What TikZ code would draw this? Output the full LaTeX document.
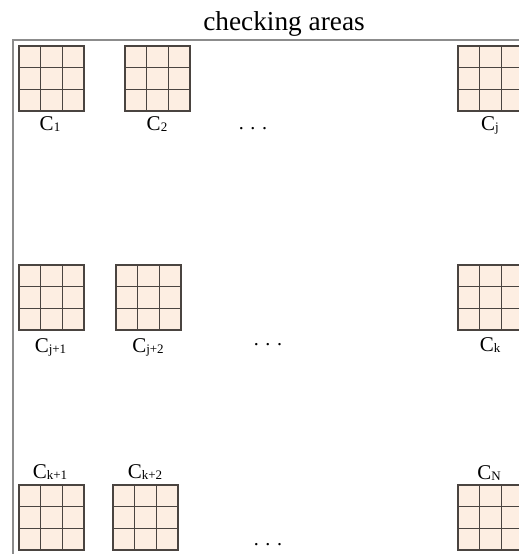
\documentclass[tikz,border=0pt]{standalone}
\usepackage{fontspec}
\setmainfont{Liberation Serif}
\definecolor{cellfill}{HTML}{FDEEE2}
\definecolor{cellline}{HTML}{4A4440}
\definecolor{framegray}{HTML}{8C8C8C}
\newcommand\sbs[1]{\raisebox{-1.5pt}{\fontsize{13}{13}\selectfont #1}}
\tikzset{
  gridline/.style={draw=cellline, line width=1.2pt},
  framestyle/.style={draw=framegray, line width=1.5pt},
  lbl/.style={font=\fontsize{21}{24}\selectfont, anchor=base, inner sep=0pt},
  dotsstyle/.style={font=\fontsize{20}{22}\selectfont, anchor=base, inner sep=0pt},
  pics/checkgrid/.style={code={
    \fill[cellfill] (0,0) rectangle (65,65);
    \foreach \i in {1,2} {
      \draw[gridline] (\i*65/3,0) -- (\i*65/3,65);
      \draw[gridline] (0,\i*65/3) -- (65,\i*65/3);
    }
    \draw[gridline] (0,0) rectangle (65,65);
  }}
}
\begin{document}
\begin{tikzpicture}[x=1pt,y=-1pt]
\useasboundingbox (0,0) rectangle (519,554);
\clip (0,0) rectangle (519,554);
\node[font=\fontsize{27.3}{30}\selectfont, inner sep=0pt, anchor=base] (title) at (284,30) {checking areas};
\coordinate (ftr) at (520,40);
\coordinate (ftl) at (13,40);
\coordinate (fbl) at (13,556);
\draw[framestyle] (ftr) -- (ftl) -- (fbl);
% row 1
\pic (g1) at (19,46) {checkgrid};
\pic (g2) at (125,46) {checkgrid};
\pic (gj) at (458,46) {checkgrid};
\node[lbl] (l1) at (50,130) {C\sbs{1}};
\node[lbl] (l2) at (157,130) {C\sbs{2}};
\node[lbl] (lj) at (490,130) {C\sbs{j}};
\node[dotsstyle] (d1) at (253,129) {. . .};
% row 2
\pic (g3) at (19,265) {checkgrid};
\pic (g4) at (116,265) {checkgrid};
\pic (gk) at (458,265) {checkgrid};
\node[lbl] (l3) at (50.5,352) {C\sbs{j+1}};
\node[lbl] (l4) at (148,352) {C\sbs{j+2}};
\node[lbl] (lk) at (490,351) {C\sbs{k}};
\node[dotsstyle] (d2) at (268,345) {. . .};
% row 3
\pic (g5) at (19,485) {checkgrid};
\pic (g6) at (113,485) {checkgrid};
\pic (gn) at (458,485) {checkgrid};
\node[lbl] (l5) at (50,478) {C\sbs{k+1}};
\node[lbl] (l6) at (145,478) {C\sbs{k+2}};
\node[lbl] (ln) at (489,479) {C\sbs{N}};
\node[dotsstyle] (d3) at (268,545) {. . .};
\end{tikzpicture}
\end{document}
